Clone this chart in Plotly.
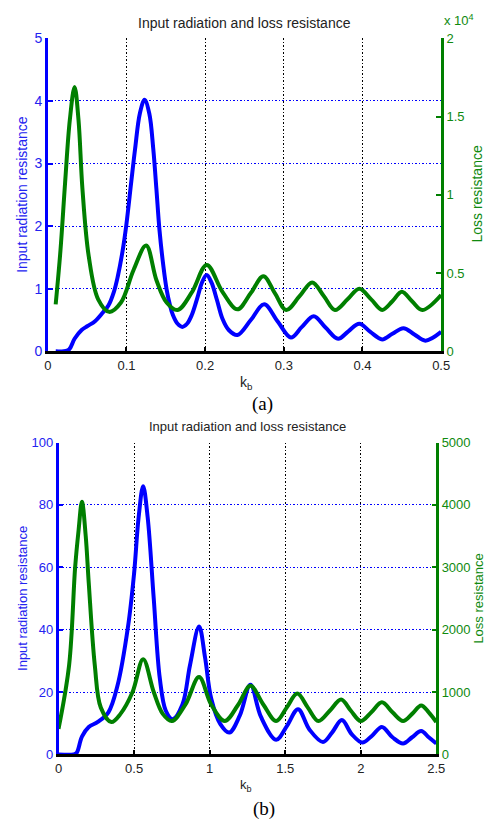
import plotly.graph_objects as go

# ---------------- (a) low-frequency sweep ----------------
kb_a_rad = [0.01, 0.02, 0.027, 0.034, 0.043, 0.05, 0.06, 0.07, 0.077, 0.084, 0.089,
            0.095, 0.1, 0.106, 0.111, 0.117, 0.123, 0.129, 0.134, 0.138, 0.142, 0.147,
            0.151, 0.155, 0.159, 0.165, 0.171, 0.177, 0.183, 0.19, 0.196, 0.202, 0.208,
            0.215, 0.222, 0.23, 0.241, 0.258, 0.275, 0.292, 0.309, 0.323, 0.338, 0.353,
            0.369, 0.382, 0.396, 0.41, 0.425, 0.438, 0.452, 0.466, 0.48, 0.5]
rad_a = [0, 0, 0.03, 0.2, 0.34, 0.4, 0.48, 0.62, 0.73, 0.95, 1.2,
         1.6, 2.04, 2.7, 3.24, 3.8, 4.02, 3.8, 3.24, 2.6, 1.93, 1.35,
         0.99, 0.75, 0.58, 0.44, 0.39, 0.44, 0.58, 0.85, 1.1, 1.22, 1.1,
         0.82, 0.52, 0.34, 0.26, 0.5, 0.75, 0.48, 0.22, 0.39, 0.56, 0.38,
         0.2, 0.32, 0.44, 0.31, 0.19, 0.28, 0.37, 0.27, 0.17, 0.31]

kb_a_loss = [0.01, 0.016, 0.022, 0.028, 0.034, 0.039, 0.044, 0.052, 0.064, 0.078, 0.093,
             0.109, 0.125, 0.138, 0.151, 0.165, 0.183, 0.202, 0.222, 0.241, 0.258,
             0.274, 0.289, 0.303, 0.32, 0.336, 0.351, 0.365, 0.381, 0.396, 0.411,
             0.425, 0.438, 0.45, 0.463, 0.476, 0.5]
loss_a = [3000, 6400, 10800, 14800, 16900, 14800, 10400, 6080, 3320, 2520, 3120,
          5200, 6760, 4560, 3120, 2640, 3760, 5520, 3800, 2680, 3720,
          4800, 3680, 2640, 3520, 4400, 3520, 2640, 3320, 4000, 3320,
          2640, 3200, 3800, 3200, 2640, 3600]

# ---------------- (b) wide sweep ----------------
kb_b_rad = [0, 0.1, 0.12, 0.155, 0.2, 0.26, 0.33, 0.39, 0.46, 0.5, 0.53, 0.56, 0.59,
            0.63, 0.67, 0.71, 0.755, 0.82, 0.87, 0.93, 0.97, 1.01, 1.07, 1.13, 1.2,
            1.27, 1.34, 1.44, 1.51, 1.585, 1.66, 1.75, 1.81, 1.875, 1.94, 2.01,
            2.075, 2.14, 2.21, 2.28, 2.34, 2.4, 2.45, 2.5]
rad_b = [0, 0, 0.5, 5.7, 8.8, 10.4, 13.5, 22, 41, 58, 76, 86, 76,
         50, 24.5, 14, 11.3, 16, 28.6, 41, 31, 18, 9.8, 7, 12.5,
         22.3, 12, 4.7, 9, 14.5, 8, 4, 7, 11, 6.5, 3.8,
         6, 8.8, 5.5, 3.5, 5.5, 7.5, 5.5, 3.5]

kb_b_loss = [0, 0.07, 0.11, 0.133, 0.155, 0.18, 0.2, 0.24, 0.28, 0.35, 0.41, 0.49,
             0.56, 0.63, 0.69, 0.75, 0.84, 0.93, 1.01, 1.1, 1.19, 1.27, 1.355,
             1.44, 1.51, 1.58, 1.65, 1.72, 1.795, 1.87, 1.935, 2.0, 2.07, 2.14,
             2.21, 2.28, 2.34, 2.4, 2.45, 2.5]
loss_b = [410, 1430, 3000, 3600, 4050, 3500, 2750, 1430, 750, 520, 650, 1000,
          1525, 1000, 650, 535, 800, 1240, 800, 535, 800, 1100, 800,
          535, 750, 975, 750, 535, 700, 880, 700, 535, 675, 835,
          675, 535, 650, 785, 675, 520]

x_ticks_a = [0, 0.1, 0.2, 0.3, 0.4, 0.5]
x_ticklabels_a = ["0", "0.1", "0.2", "0.3", "0.4", "0.5"]
y_ticks_a = [0, 1, 2, 3, 4, 5]
loss_ticks_a = [0, 5000, 10000, 15000, 20000]
loss_ticklabels_a = ["0", "0.5", "1", "1.5", "2"]
x_ticks_b = [0, 0.5, 1, 1.5, 2, 2.5]
x_ticklabels_b = ["0", "0.5", "1", "1.5", "2", "2.5"]
y_ticks_b = [0, 20, 40, 60, 80, 100]
loss_ticks_b = [0, 1000, 2000, 3000, 4000, 5000]

BLUE = "#0000ff"
BLUE_TXT = "#2323f0"
GREEN = "#007f00"
GREEN_TXT = "#0f8a0f"
FONT = "Liberation Sans, Arial, sans-serif"
SERIF = "Liberation Serif, Times New Roman, serif"
W, H = 493, 835
DOTS = "1.5px,2px"

fig = go.Figure()

curve = dict(width=4, shape="spline", smoothing=1.0)
fig.add_trace(go.Scatter(x=kb_a_rad, y=rad_a, mode="lines", xaxis="x", yaxis="y",
                         line=dict(color=BLUE, **curve), showlegend=False))
fig.add_trace(go.Scatter(x=kb_a_loss, y=loss_a, mode="lines", xaxis="x", yaxis="y2",
                         line=dict(color=GREEN, **curve), showlegend=False))
fig.add_trace(go.Scatter(x=kb_b_rad, y=rad_b, mode="lines", xaxis="x2", yaxis="y3",
                         line=dict(color=BLUE, **curve), showlegend=False))
fig.add_trace(go.Scatter(x=kb_b_loss, y=loss_b, mode="lines", xaxis="x2", yaxis="y4",
                         line=dict(color=GREEN, **curve), showlegend=False))


def px_x(p):
    return p / W


def px_y(p):
    return 1 - p / H


xa_common = dict(ticks="inside", ticklen=5, tickwidth=1.5, tickcolor="black",
                 showline=True, linecolor="black", linewidth=2.5,
                 showgrid=True, gridcolor="black", griddash=DOTS, gridwidth=1.3,
                 zeroline=False, tickfont=dict(family=FONT, size=13, color="#222"))
yl_common = dict(ticks="inside", ticklen=5, tickwidth=1.5, tickcolor=BLUE,
                 showline=True, linecolor=BLUE, linewidth=2.5,
                 showgrid=True, gridcolor=BLUE, griddash=DOTS, gridwidth=1.3,
                 zeroline=False)
yr_common = dict(ticks="inside", ticklen=5, tickwidth=1.5, tickcolor=GREEN,
                 showline=True, linecolor=GREEN, linewidth=2.5, side="right",
                 showgrid=False, zeroline=False,
                 tickfont=dict(family=FONT, size=13, color=GREEN_TXT))

fig.update_layout(
    width=W, height=H, margin=dict(l=0, r=0, t=0, b=0),
    paper_bgcolor="white", plot_bgcolor="white",
    xaxis=dict(domain=[px_x(45), px_x(449)], range=[0, 0.5], anchor="y",
               tickvals=x_ticks_a, ticktext=x_ticklabels_a, **xa_common),
    yaxis=dict(domain=[px_y(350), px_y(31)], range=[0, 5], anchor="x",
               tickvals=y_ticks_a, tickfont=dict(family=FONT, size=14, color=BLUE_TXT),
               **yl_common),
    yaxis2=dict(range=[0, 20000], overlaying="y", anchor="x",
                tickvals=loss_ticks_a, ticktext=loss_ticklabels_a, **yr_common),
    xaxis2=dict(domain=[px_x(56), px_x(444)], range=[0, 2.5], anchor="y3",
                tickvals=x_ticks_b, ticktext=x_ticklabels_b, **xa_common),
    yaxis3=dict(domain=[px_y(761), px_y(443)], range=[0, 100], anchor="x2",
                tickvals=y_ticks_b, tickfont=dict(family=FONT, size=13, color=BLUE_TXT),
                **yl_common),
    yaxis4=dict(range=[0, 5000], overlaying="y3", anchor="x2",
                tickvals=loss_ticks_b, **yr_common),
)

ann = []
# titles
ann.append(dict(text="Input radiation and loss resistance", x=px_x(247), y=px_y(15),
                font=dict(family=FONT, size=14, color="#222")))
ann.append(dict(text="Input radiation and loss resistance", x=px_x(250), y=px_y(427),
                font=dict(family=FONT, size=13, color="#222")))
# y-axis titles
ann.append(dict(text="Input radiation resistance", x=px_x(19), y=px_y(190), textangle=-90,
                font=dict(family=FONT, size=14, color=BLUE_TXT)))
ann.append(dict(text="Loss resistance", x=px_x(486), y=px_y(190), textangle=-90,
                font=dict(family=FONT, size=14, color=GREEN_TXT)))
ann.append(dict(text="Input radiation resistance", x=px_x(19), y=px_y(602), textangle=-90,
                font=dict(family=FONT, size=13, color=BLUE_TXT)))
ann.append(dict(text="Loss resistance", x=px_x(487), y=px_y(602), textangle=-90,
                font=dict(family=FONT, size=13, color=GREEN_TXT)))
# x-axis titles
ann.append(dict(text="k<sub>b</sub>", x=px_x(249), y=px_y(382),
                font=dict(family=FONT, size=14, color="#222")))
ann.append(dict(text="k<sub>b</sub>", x=px_x(249), y=px_y(793),
                font=dict(family=FONT, size=13, color="#222")))
# exponent for the loss axis of (a)
ann.append(dict(text="x 10<sup>4</sup>", x=px_x(467), y=px_y(12),
                font=dict(family=FONT, size=13, color=GREEN_TXT)))
# panel labels
ann.append(dict(text="(a)", x=px_x(266), y=px_y(404),
                font=dict(family=SERIF, size=19, color="black")))
ann.append(dict(text="(b)", x=px_x(267), y=px_y(817),
                font=dict(family=SERIF, size=19, color="black")))

for a in ann:
    a.update(xref="paper", yref="paper", showarrow=False, xanchor="center", yanchor="middle")
fig.update_layout(annotations=ann)

fig.write_html("out.html")
